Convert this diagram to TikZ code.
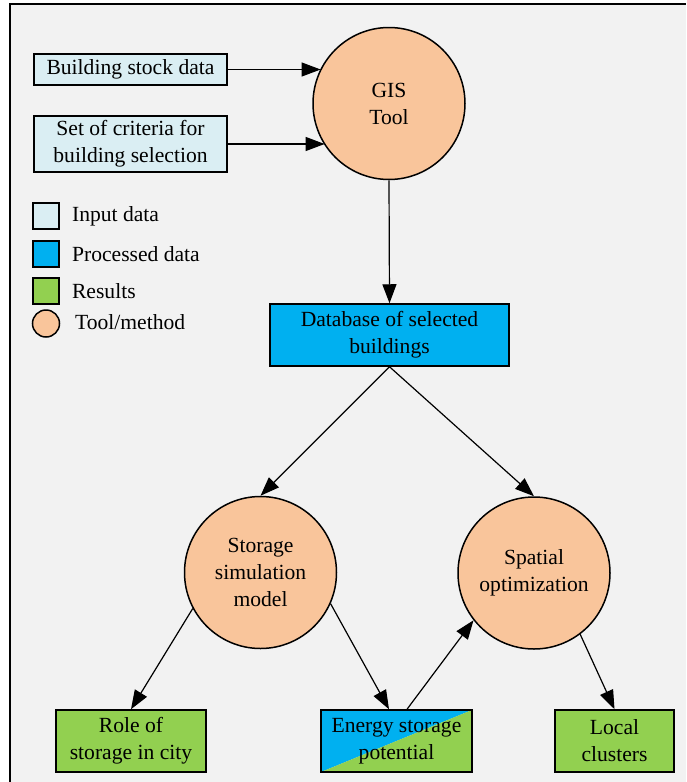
\documentclass[tikz,border=0pt]{standalone}
\usepackage{fontspec}
\setmainfont{Liberation Serif}
\usetikzlibrary{arrows.meta,calc}
\definecolor{inputblue}{HTML}{DAEEF3}
\definecolor{procblue}{HTML}{00B0F0}
\definecolor{resgreen}{HTML}{92D050}
\definecolor{toolpeach}{HTML}{F9C59B}
\definecolor{bggray}{HTML}{F2F2F2}

\begin{document}
\begin{tikzpicture}[x=0.5pt,y=-0.5pt,
        font=\fontsize{10.8}{13.5}\selectfont,
        box/.style={draw,line width=0.75pt,inner sep=0pt,align=center,minimum height=31pt},
        tool/.style={draw,circle,line width=0.75pt,fill=toolpeach,inner sep=0pt,align=center,minimum size=76pt},
        arr/.style={line width=0.6pt,-{Triangle[length=9.5pt,width=7pt]}}]
        \useasboundingbox (0,0) rectangle (686,782);
        % background and frame
        \fill[white] (0,0) rectangle (686,782);
        \fill[bggray] (10,4) rectangle (686,782);
        \draw[line width=0.8pt] (10,782) -- (10,4) -- (686,4);

        % inputs and GIS
        \node[box,fill=inputblue,minimum width=96.5pt,minimum height=15.5pt] (stock) at (130.5,69.5) {Building stock data};
        \node[box,fill=inputblue,minimum width=96.5pt,minimum height=28pt] (criteria) at (130.5,144) {Set of criteria for\\building selection};
        \node[tool] (gis) at (389,103.5) {GIS\\Tool};
        \node[box,fill=procblue,minimum width=119.5pt] (db) at (389.5,335) {Database of selected\\buildings};

        % legend
        \foreach \y/\c/\t in {216/inputblue/Input data,254/procblue/Processed data,291/resgreen/Results} {
            \node[draw,line width=0.75pt,fill=\c,minimum size=13pt,inner sep=0pt] (key\y) at (46,\y) {};
            \node[anchor=west] (lab\y) at (65,\y) {\t};
        }
        \node[draw,circle,line width=0.75pt,fill=toolpeach,minimum size=13.5pt,inner sep=0pt] (keytool) at (46,323.5) {};
        \node[anchor=west] (labtool) at (68,322) {Tool/method};

        % methods and results
        \node[tool] (sim) at (260.5,572.5) {Storage\\simulation\\model};
        \node[tool] (opt) at (534,573) {Spatial\\optimization};
        \node[box,fill=resgreen,minimum width=75pt] (role) at (131,741) {Role of\\storage in city};
        \node[box,minimum width=75.5pt,path picture={
                \fill[procblue] (path picture bounding box.north west) -- (path picture bounding box.north east) -- (path picture bounding box.south west) -- cycle;
                \fill[resgreen] (path picture bounding box.north east) -- (path picture bounding box.south east) -- (path picture bounding box.south west) -- cycle;}] (energy) at (396.5,741) {Energy storage\\potential};
        \node[box,fill=resgreen,minimum width=59.5pt] (local) at (614.5,741) {Local\\clusters};

        % connectors
        \draw[arr] (stock.east) -- (gis.153 |- stock.east);
        \draw[arr] (criteria.east) -- (gis.213 |- criteria.east);
        \draw[arr] (gis.south) -- (db.north);
        \draw[arr] (db.south) -- (sim.north);
        \draw[arr] (db.south) -- (opt.north);
        \draw[arr] (sim.208) -- (role.north);
        \draw[arr] (sim.-24) -- ($(energy.north)+(-7.5,0)$);
        \draw[arr] ($(energy.north)+(10.5,0)$) -- (opt.218);
        \draw[arr] (opt.-53) -- (local.north);
    \end{tikzpicture}
\end{document}
